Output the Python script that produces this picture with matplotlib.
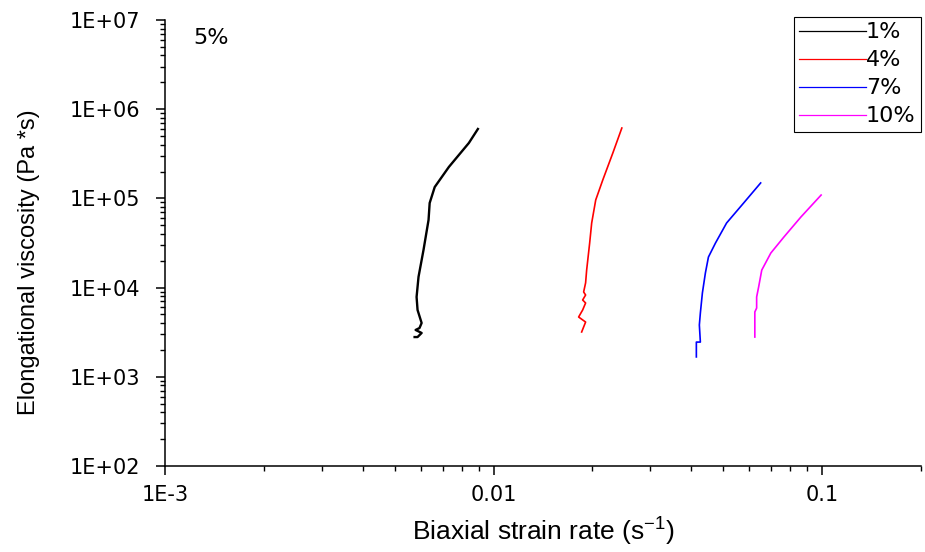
import matplotlib.pyplot as plt
import numpy as np
from matplotlib.ticker import FixedLocator, LogLocator, NullFormatter

plt.rcParams['font.family'] = ['DejaVu Sans']

# strain rate (1/s) and elongational viscosity (Pa*s)
rate_1 = [0.00575, 0.00587, 0.00604, 0.00579, 0.00595, 0.00604, 0.00587, 0.00583,
          0.00591, 0.00612, 0.00634, 0.00639, 0.00662, 0.00731, 0.00841, 0.00896]
visc_1 = [2.79e3, 2.79e3, 3.1e3, 3.35e3, 3.52e3, 4.01e3, 5.61e3, 7.85e3,
          1.32e4, 2.64e4, 5.73e4, 8.88e4, 1.34e5, 2.25e5, 4.18e5, 6.0e5]

rate_4 = [0.01854, 0.01906, 0.01815, 0.01867, 0.01906, 0.01867, 0.01906, 0.01880,
          0.01906, 0.01920, 0.01961, 0.01989, 0.02046, 0.02150, 0.02307, 0.02457]
visc_4 = [3.18e3, 4.11e3, 4.68e3, 5.61e3, 6.72e3, 7.26e3, 8.26e3, 8.93e3,
          1.13e4, 1.57e4, 3.16e4, 5.3e4, 9.6e4, 1.61e5, 3.23e5, 6.15e5]

rate_7 = [0.04142, 0.04142, 0.04260, 0.04230, 0.04260, 0.04321, 0.04413, 0.04508,
          0.04736, 0.0512, 0.0577, 0.0650]
visc_7 = [1.67e3, 2.45e3, 2.45e3, 3.81e3, 5.19e3, 8.7e3, 1.46e4, 2.2e4,
          3.16e4, 5.3e4, 8.88e4, 1.49e5]

rate_10 = [0.0624, 0.0624, 0.0632, 0.0632, 0.0641, 0.0655, 0.0698, 0.0765, 0.0862, 0.0993]
visc_10 = [2.79e3, 5.33e3, 5.9e3, 7.85e3, 1.02e4, 1.57e4, 2.44e4, 3.69e4, 6.19e4, 1.09e5]

labels = ['1%', '4%', '7%', '10%']
colors = ['black', '#ff0000', '#0000ff', '#ff00ff']

x_ticks = [1e-3, 1e-2, 1e-1]
x_ticklabels = ['1E-3', '0.01', '0.1']
y_ticks = [1e2, 1e3, 1e4, 1e5, 1e6, 1e7]
y_ticklabels = ['1E+02', '1E+03', '1E+04', '1E+05', '1E+06', '1E+07']

fig = plt.figure(figsize=(9.25, 5.52), dpi=100)
ax = fig.add_axes([0.1784, 0.1558, 0.8173, 0.808])

series = [(rate_1, visc_1), (rate_4, visc_4), (rate_7, visc_7), (rate_10, visc_10)]
for (r, v), lab, c in zip(series, labels, colors):
    lw = 1.7 if c == 'black' else 1.2
    ax.plot(r, v, color=c, lw=lw, label=lab)

ax.set_xscale('log')
ax.set_yscale('log')
ax.set_xlim(1e-3, 0.2)
ax.set_ylim(1e2, 1e7)

ax.xaxis.set_major_locator(FixedLocator(x_ticks))
ax.set_xticklabels(x_ticklabels)
ax.xaxis.set_minor_locator(LogLocator(base=10, subs=np.arange(2, 10)))
ax.xaxis.set_minor_formatter(NullFormatter())
ax.yaxis.set_major_locator(FixedLocator(y_ticks))
ax.set_yticklabels(y_ticklabels)
ax.yaxis.set_minor_locator(LogLocator(base=10, subs=np.arange(2, 10)))
ax.yaxis.set_minor_formatter(NullFormatter())

for s in ['top', 'right']:
    ax.spines[s].set_visible(False)
for s in ['left', 'bottom']:
    ax.spines[s].set_linewidth(1.1)

ax.tick_params(axis='both', which='major', direction='out', length=6.5, width=1.1,
               labelsize=15)
ax.tick_params(axis='x', which='major', pad=7)
ax.tick_params(axis='y', which='major', pad=11.5)
ax.tick_params(axis='both', which='minor', direction='out', length=3.5, width=1)

ax.set_xlabel('Biaxial strain rate (s$^{\\mathregular{-1}}$)', fontsize=19,
              family='Liberation Sans', labelpad=7)
ax.set_ylabel('Elongational viscosity (Pa *s)', fontsize=17,
              family='Liberation Sans')
ax.yaxis.set_label_coords(-0.165, 0.457)

ax.text(0.037, 0.96, '5%', transform=ax.transAxes, fontsize=16, va='center')

leg = ax.legend(loc='upper right', bbox_to_anchor=(1.0, 1.007), fontsize=16,
                handlelength=3.0, handletextpad=0.0, labelspacing=0.36,
                borderpad=0.25, borderaxespad=0.0, fancybox=False, framealpha=1)
leg.get_frame().set_edgecolor('black')
leg.get_frame().set_linewidth(0.8)
for line in leg.get_lines():
    line.set_linewidth(0.9)

fig.savefig('out.png', dpi=100)
